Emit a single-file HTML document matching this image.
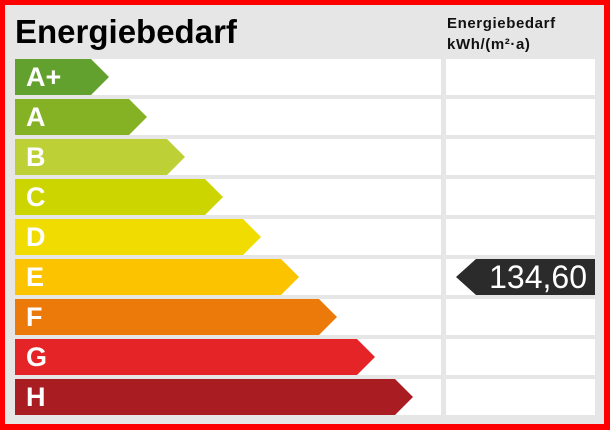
<!DOCTYPE html>
<html><head><style>
body{margin:0;width:610px;height:430px;overflow:hidden;background:#f00;font-family:"Liberation Sans",sans-serif}
#g{position:absolute;left:5px;top:5px;width:599px;height:419px;background:#e6e6e6}
.t{position:absolute;left:15px;top:13px;font-size:33px;font-weight:bold;color:#000}
.h{position:absolute;left:447px;top:13px;font-size:15px;letter-spacing:0.6px;font-weight:bold;line-height:21px;color:#111}
.c{position:absolute;background:#fff;height:36px}
.a{position:absolute;left:15px;height:36px;color:#fff;font-weight:bold;font-size:27px;line-height:37px;text-indent:11px}
</style></head><body>
<div id="g"></div>
<div class="t">Energiebedarf</div>
<div class="h">Energiebedarf<br>kWh/(m²·a)</div>
<div id="rows"></div>
<script>
var cols=["#62a12d","#85b224","#bdd036","#cdd500","#f0dc00","#fcc400","#ec7a0a","#e52428","#a81c22"];
var labs=["A+","A","B","C","D","E","F","G","H"];
var h="";
for(var i=0;i<9;i++){var y=59+40*i;var tip=109+38*i;var w=tip-15;
h+='<div class="c" style="left:15px;top:'+y+'px;width:426px"></div>';
h+='<div class="c" style="left:446px;top:'+y+'px;width:149px"></div>';
h+='<div class="a" style="top:'+y+'px;width:'+w+'px;background:'+cols[i]+';clip-path:polygon(0 0,'+(w-18)+'px 0,100% 50%,'+(w-18)+'px 100%,0 100%)">'+labs[i]+'</div>';}
h+='<div style="position:absolute;left:456px;top:259px;width:139px;height:36px;background:#2b2b2b;clip-path:polygon(20px 0,100% 0,100% 100%,20px 100%,0 50%);color:#fff;font-size:32px;line-height:37px;text-align:right;padding-right:0"><span style="margin-right:8px">134,60</span></div>';
document.getElementById("rows").innerHTML=h;
</script>
</body></html>
